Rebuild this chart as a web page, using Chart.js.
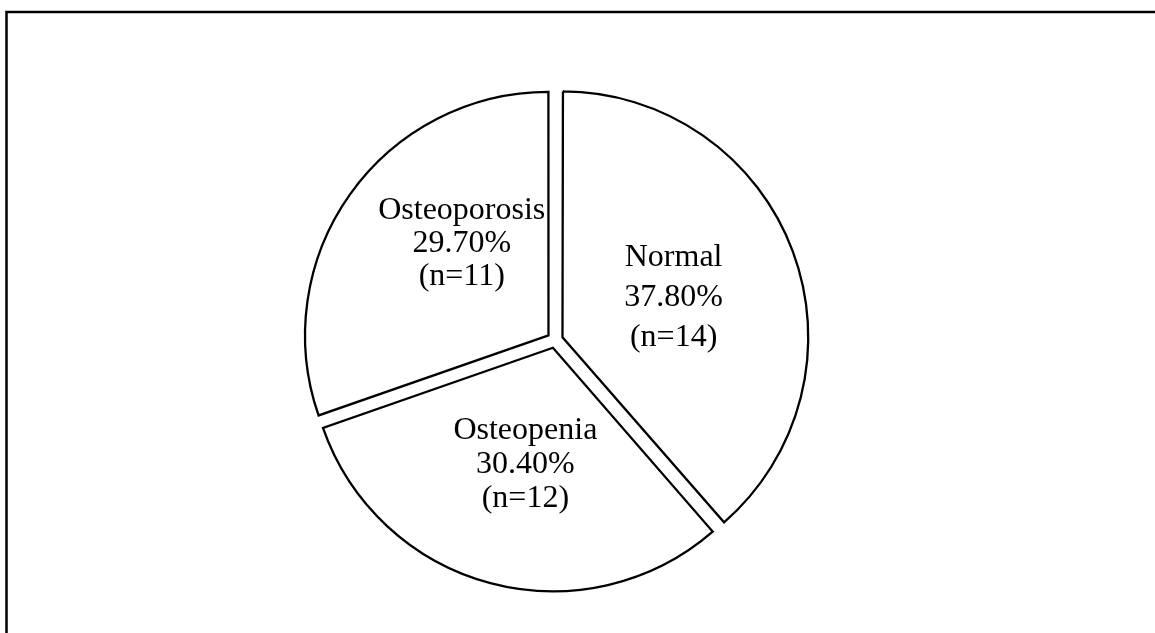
<!DOCTYPE html>
<html>
<head>
<meta charset="utf-8">
<script src="https://cdn.jsdelivr.net/npm/chart.js@4.4.0/dist/chart.umd.min.js"></script>
<style>
  html, body { margin: 0; padding: 0; background: #ffffff; }
  #wrap { width: 1155px; height: 633px; position: relative; }
</style>
</head>
<body>
<div id="wrap"><canvas id="c" width="1155" height="633"></canvas></div>
<script>
// ---- data ----
const categories = ["Normal", "Osteopenia", "Osteoporosis"];
const percentValues = [37.8, 30.4, 29.7];
const percentLabels = ["37.80%", "30.40%", "29.70%"];
const counts = [14, 12, 11];

// label placement (angle nudge in degrees from slice mid-angle, distance from pie centre)
const labelPlacement = [
  { dAngle: 0.8, dist: 126, lineGap: 40 },
  { dAngle: -1.5, dist: 128, lineGap: 34 },
  { dAngle: 10.5, dist: 134, lineGap: 33 }
];

const framePlugin = {
  id: 'frame',
  beforeDraw(chart) {
    const ctx = chart.ctx;
    ctx.save();
    ctx.fillStyle = '#ffffff';
    ctx.fillRect(0, 0, chart.width, chart.height);
    ctx.strokeStyle = '#000000';
    ctx.lineWidth = 2.5;
    ctx.beginPath();
    ctx.moveTo(6.5, chart.height);
    ctx.lineTo(6.5, 12);
    ctx.lineTo(chart.width, 12);
    ctx.stroke();
    ctx.restore();
  }
};

const labelPlugin = {
  id: 'sliceLabels',
  afterDatasetsDraw(chart) {
    const ctx = chart.ctx;
    const meta = chart.getDatasetMeta(0);
    ctx.save();
    ctx.fillStyle = '#000000';
    ctx.font = '32px "Liberation Serif", "Times New Roman", serif';
    ctx.textAlign = 'center';
    ctx.textBaseline = 'middle';
    meta.data.forEach((arc, i) => {
      const p = labelPlacement[i];
      const mid = (arc.startAngle + arc.endAngle) / 2 + p.dAngle * Math.PI / 180;
      const cx = arc.x + Math.cos(mid) * p.dist;
      const cy = arc.y + Math.sin(mid) * p.dist;
      const lines = [categories[i], percentLabels[i], '(n=' + counts[i] + ')'];
      lines.forEach((t, k) => {
        ctx.fillText(t, cx, cy + (k - 1) * p.lineGap);
      });
    });
    ctx.restore();
  }
};

new Chart(document.getElementById('c'), {
  type: 'pie',
  data: {
    labels: categories,
    datasets: [{
      data: percentValues,
      backgroundColor: '#ffffff',
      borderColor: '#000000',
      borderWidth: 2.3,
      borderJoinStyle: 'miter',
      offset: 32
    }]
  },
  options: {
    responsive: false,
    animation: false,
    radius: 243,
    layout: { padding: { left: 0, right: 45, top: 47, bottom: 0 } },
    plugins: {
      legend: { display: false },
      tooltip: { enabled: false }
    }
  },
  plugins: [framePlugin, labelPlugin]
});
</script>
</body>
</html>
